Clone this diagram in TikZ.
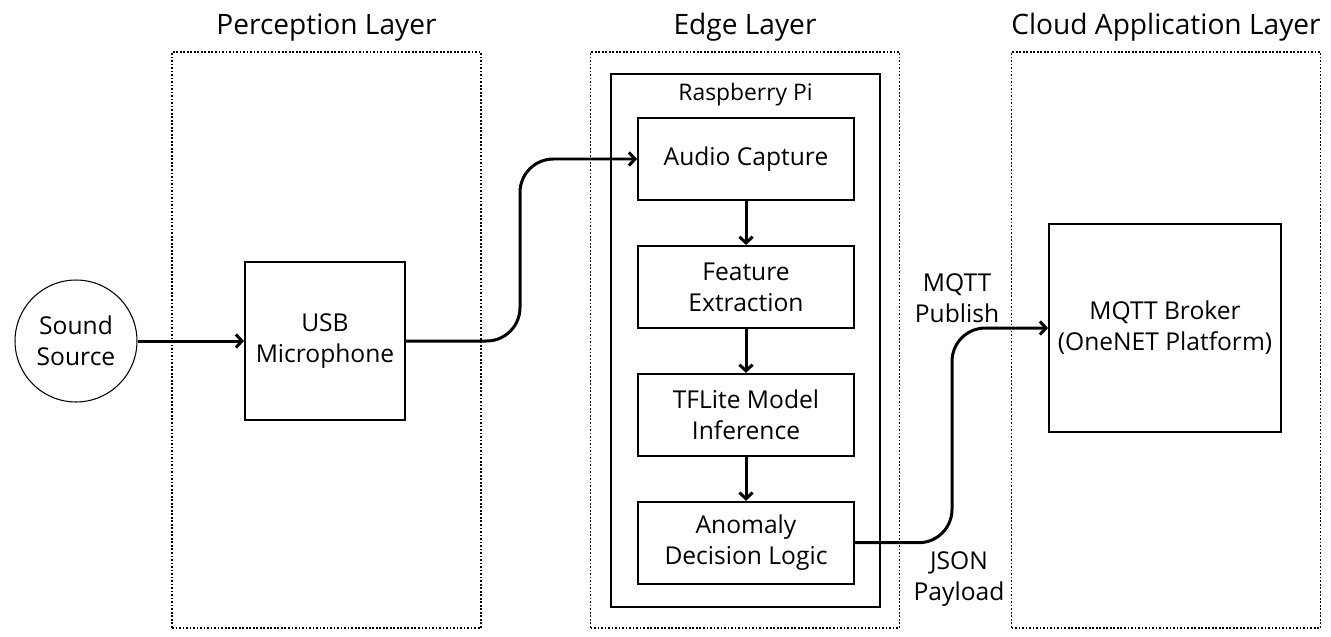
\documentclass[tikz,border=0pt]{standalone}
\usepackage{fontspec}
\setmainfont{Open Sans}
\usetikzlibrary{positioning,arrows.meta}

\begin{document}
\begin{tikzpicture}[%
    x=0.02cm, y=-0.02cm,            % one unit is one pixel of the sketch
    >={Straight Barb[length=3.5pt,width=7.5pt]},
    node distance=0.88cm and 1.2cm, % Global setup of box spacing
    ]
% -------------------------------------------------
% Box and line styles
\tikzset{
  layer/.style={draw, densely dotted, line width=1pt,
    minimum width=6.18cm, minimum height=11.52cm},
  ttl/.style={font=\fontsize{16}{19}\selectfont},
  base/.style={draw, line width=1.1pt, align=center,
    font=\fontsize{14}{17.6}\selectfont},
  proc/.style={base, rectangle, minimum width=4.32cm, minimum height=1.64cm},
  src/.style={base, circle, minimum size=2.44cm, line width=0.6pt},
  lbl/.style={align=center, font=\fontsize{14}{17.6}\selectfont},
  % connector line styles
  flow/.style={->, draw, line width=1.7pt, rounded corners=19pt}
}
\useasboundingbox (0,0) rectangle (1331,636);
% -------------------------------------------------
% The three layers
\node [layer] (perc)  at (326.5,340) {};
\node [layer] (edge)  at (745,340) {};
\node [layer] (cloud) at (1166,340) {};
\node [ttl, above=0.07cm of perc.north]  (tperc)  {Perception Layer};
\node [ttl, above=0.07cm of edge.north]  (tedge)  {Edge Layer};
\node [ttl, above=0.07cm of cloud.north] (tcloud) {Cloud Application Layer};
% -------------------------------------------------
% Perception side
\node [src]  (sound) at (76,341) {Sound\\Source};
\node [base, minimum width=3.2cm, minimum height=3.16cm] (usb) at (325,341)
  {USB\\Microphone};
% -------------------------------------------------
% Raspberry Pi and its chain of steps
\node [base, minimum width=5.38cm, minimum height=10.66cm] (rpi) at (745.5,340.5) {};
\node [below=0.08cm of rpi.north, font=\fontsize{13}{15}\selectfont] (trpi) {Raspberry Pi};
\node [proc] (audio) at (746,159) {Audio Capture};
\node [proc, below=of audio] (feat)  {Feature\\Extraction};
\node [proc, below=of feat]  (infer) {TFLite Model\\Inference};
\node [proc, below=of infer] (anom)  {Anomaly\\Decision Logic};
% -------------------------------------------------
% Cloud side
\node [base, minimum width=4.64cm, minimum height=4.16cm] (broker) at (1165,328)
  {MQTT Broker\\(OneNET Platform)};
% coordinates for the vertical parts of the connectors
\coordinate (kusb) at (520,0);
\coordinate (kpub) at (952,0);
% -------------------------------------------------
% Connections
\draw [flow] (sound.east) -- (usb.west);
\draw [flow] (usb.east) -- (usb.east -| kusb) |- (audio.west);
\draw [flow] (audio.south) -- (feat.north);
\draw [flow] (feat.south) -- (infer.north);
\draw [flow] (infer.south) -- (anom.north);
\draw [flow] (anom.east) -- (anom.east -| kpub) |- (broker.west);
\node [lbl] (pub)  at (957,298) {MQTT\\Publish};
\node [lbl] (json) at (959,579) {JSON\\Payload};
\end{tikzpicture}
\end{document}
